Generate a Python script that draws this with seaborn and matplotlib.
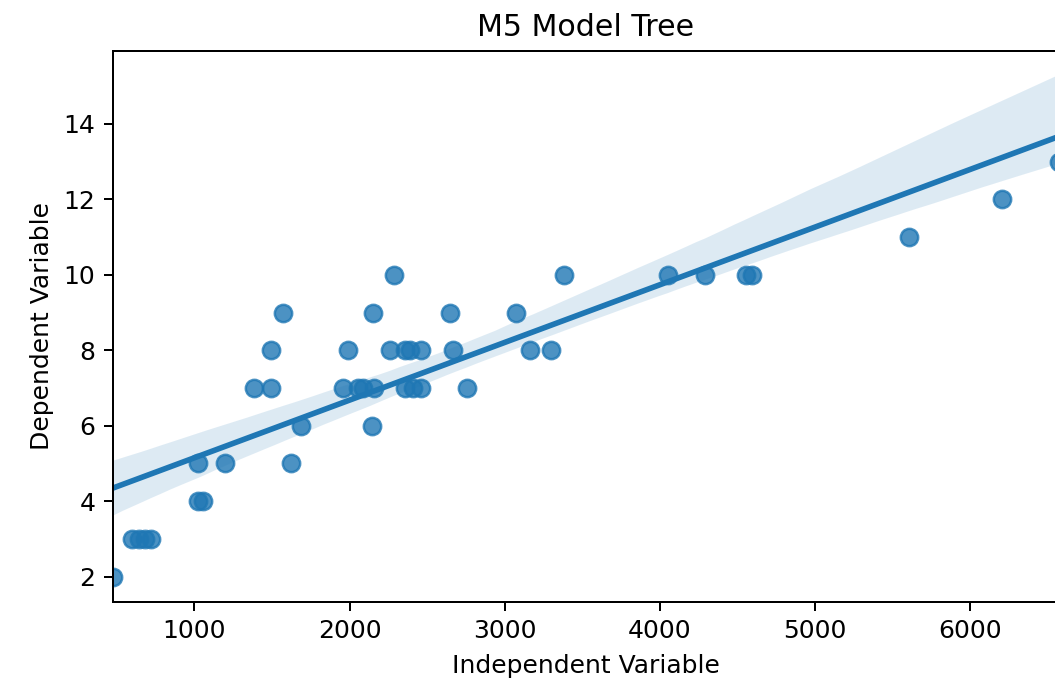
import matplotlib
matplotlib.use("Agg")
import matplotlib.pyplot as plt
import seaborn as sns
import pandas as pd

# ── Data ──────────────────────────────────────────────────────────────────────

independent = [
    475,
    600, 640, 680, 720,
    1020, 1058,
    1020, 1200, 1625,
    1690, 2148,
    1383, 1495, 1957, 2054, 2086, 2161, 2355, 2408, 2462, 2755,
    1495, 1989, 2258, 2355, 2387, 2462, 2667, 3164, 3300,
    1570, 2150, 2645, 3075,
    2290, 3380, 4052, 4290, 4555, 4595,
    5605,
    6210,
    6575,
]
dependent = [
    2,
    3, 3, 3, 3,
    4, 4,
    5, 5, 5,
    6, 6,
    7, 7, 7, 7, 7, 7, 7, 7, 7, 7,
    8, 8, 8, 8, 8, 8, 8, 8, 8,
    9, 9, 9, 9,
    10, 10, 10, 10, 10, 10,
    11,
    12,
    13,
]

TITLE = "M5 Model Tree"
X_LABEL = "Independent Variable"
Y_LABEL = "Dependent Variable"
Y_LIMITS = (1.33, 15.93)


def main():
    df = pd.DataFrame({"x": independent, "y": dependent})

    fig = plt.figure(figsize=(1055 / 180, 686 / 180), dpi=180)
    # the reference is cropped just past the right spine
    ax = fig.add_axes([113 / 1055, 1 - 602 / 686, (1059 - 113) / 1055, (602 - 51) / 686])

    sns.regplot(x="x", y="y", data=df, ax=ax, seed=0, scatter_kws={"s": 48})
    ax.set_xlim(df["x"].min(), df["x"].max())
    ax.set_ylim(*Y_LIMITS)
    ax.set_title(TITLE)
    ax.set_xlabel(X_LABEL)
    ax.set_ylabel(Y_LABEL)

    fig.savefig("out.png", dpi=180)


if __name__ == "__main__":
    main()
